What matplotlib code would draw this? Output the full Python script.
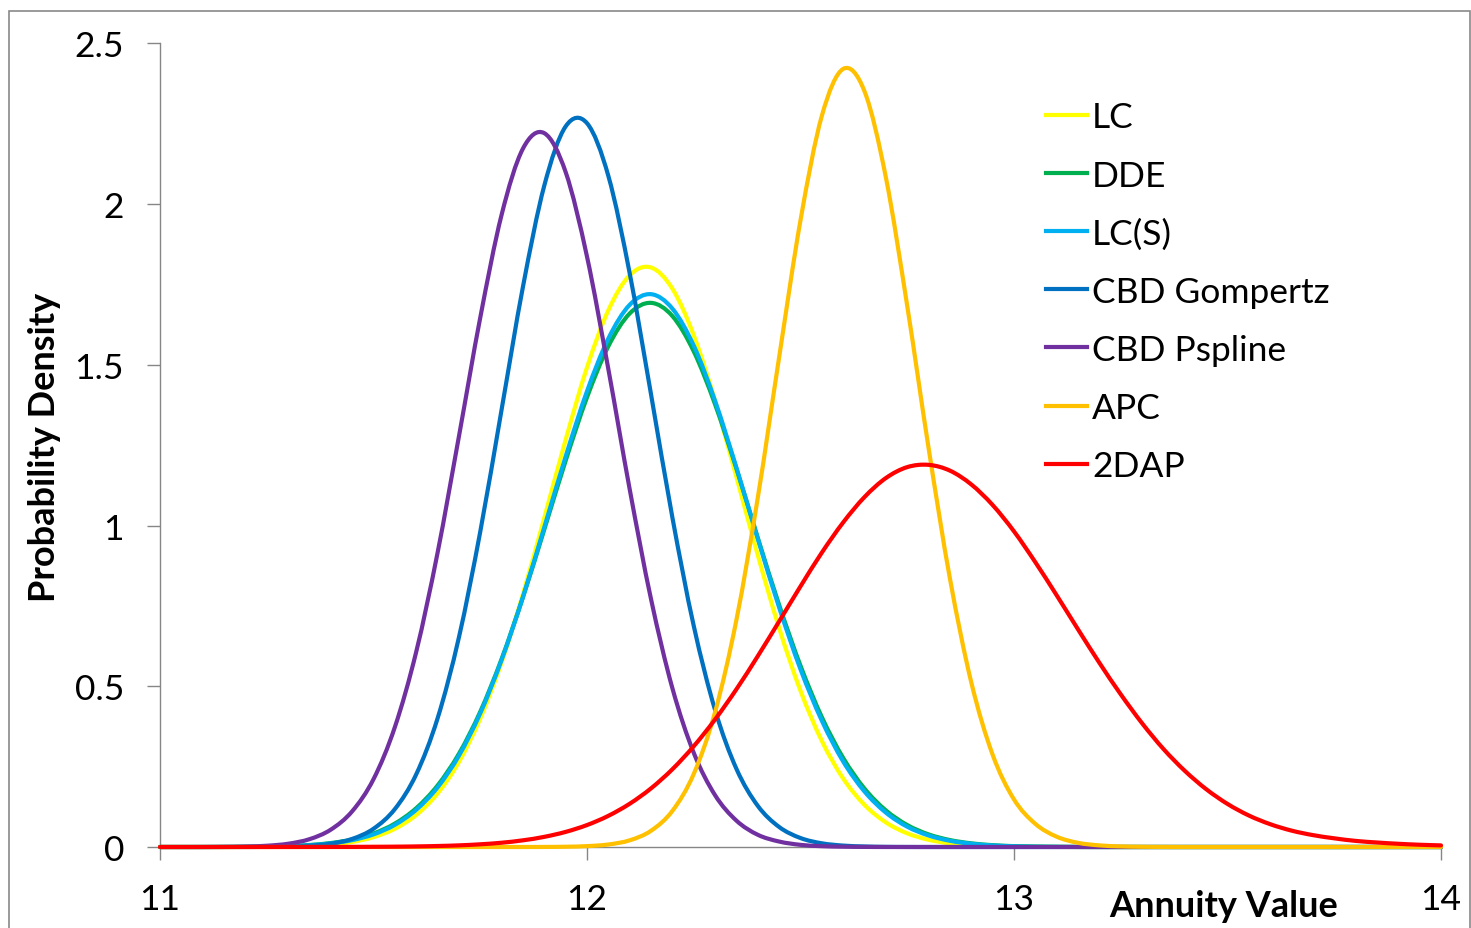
import numpy as np
import matplotlib
matplotlib.use("Agg")
import matplotlib.pyplot as plt
from matplotlib.path import Path
from matplotlib.patches import PathPatch, Rectangle
from matplotlib.lines import Line2D

plt.rcParams['font.family'] = ['Lato', 'DejaVu Sans']

# ---- data ----
annuity = np.round(np.arange(11.0, 14.0001, 0.05), 2)   # 61 grid points

lc = [0, 0, 0, 0, 0.0003, 0.0007, 0.0016, 0.0036, 0.0077, 0.0158,
      0.0307, 0.0567, 0.0996, 0.1665, 0.2646, 0.400, 0.575, 0.787, 1.024, 1.267,
      1.492, 1.670, 1.779, 1.803, 1.737, 1.592, 1.388, 1.151, 0.908, 0.681,
      0.486, 0.330, 0.213, 0.131, 0.0765, 0.0425, 0.0225, 0.0113, 0.0054, 0.0025,
      0.0011, 0.0004, 0.0002, 0, 0, 0, 0, 0, 0, 0,
      0, 0, 0, 0, 0, 0, 0, 0, 0, 0, 0]

dde = [0, 0, 0, 0.0002, 0.0006, 0.0014, 0.0030, 0.0062, 0.0123, 0.0232,
       0.0421, 0.0728, 0.1207, 0.1913, 0.290, 0.421, 0.585, 0.777, 0.988, 1.202,
       1.399, 1.558, 1.660, 1.693, 1.652, 1.542, 1.377, 1.177, 0.962, 0.753,
       0.564, 0.404, 0.277, 0.1815, 0.1139, 0.0683, 0.0392, 0.0216, 0.0114, 0.0057,
       0.0027, 0.0013, 0.0006, 0.0002, 0, 0, 0, 0, 0, 0,
       0, 0, 0, 0, 0, 0, 0, 0, 0, 0, 0]

lc_s = [0, 0, 0, 0.0002, 0.0005, 0.0012, 0.0026, 0.0055, 0.0112, 0.0214,
        0.0393, 0.0690, 0.1157, 0.1854, 0.284, 0.416, 0.582, 0.778, 0.995, 1.215,
        1.418, 1.582, 1.687, 1.720, 1.675, 1.560, 1.388, 1.180, 0.959, 0.745,
        0.553, 0.393, 0.266, 0.1725, 0.1069, 0.0632, 0.0358, 0.0194, 0.0100, 0.0049,
        0.0023, 0.0011, 0.0005, 0.0002, 0, 0, 0, 0, 0, 0,
        0, 0, 0, 0, 0, 0, 0, 0, 0, 0, 0]

cbd_gompertz = [0, 0, 0, 0, 0.0001, 0.0004, 0.0014, 0.0039, 0.0103, 0.0252,
                0.0568, 0.118, 0.226, 0.400, 0.652, 0.981, 1.361, 1.743, 2.058, 2.242,
                2.252, 2.088, 1.785, 1.408, 1.025, 0.688, 0.426, 0.243, 0.128, 0.0623,
                0.0279, 0.0115, 0.0044, 0.0016, 0.0005, 0.0001, 0, 0, 0, 0,
                0, 0, 0, 0, 0, 0, 0, 0, 0, 0,
                0, 0, 0, 0, 0, 0, 0, 0, 0, 0, 0]

cbd_pspline = [0, 0, 0.0001, 0.0005, 0.0014, 0.0039, 0.0101, 0.0243, 0.054, 0.111,
               0.211, 0.373, 0.607, 0.915, 1.277, 1.647, 1.967, 2.173, 2.221, 2.100,
               1.837, 1.487, 1.113, 0.771, 0.494, 0.293, 0.161, 0.082, 0.038, 0.017,
               0.0067, 0.0025, 0.0009, 0.0003, 0, 0, 0, 0, 0, 0,
               0, 0, 0, 0, 0, 0, 0, 0, 0, 0,
               0, 0, 0, 0, 0, 0, 0, 0, 0, 0, 0]

apc = [0, 0, 0, 0, 0, 0, 0, 0, 0, 0,
       0, 0, 0, 0, 0, 0, 0, 0, 0.0002, 0.0008,
       0.0027, 0.0078, 0.0208, 0.0506, 0.1123, 0.2274, 0.420, 0.707, 1.087, 1.524,
       1.950, 2.275, 2.421, 2.351, 2.083, 1.683, 1.241, 0.835, 0.512, 0.287,
       0.148, 0.072, 0.032, 0.013, 0.005, 0.0018, 0.0006, 0.0002, 0, 0,
       0, 0, 0, 0, 0, 0, 0, 0, 0, 0, 0]

dap2 = [0, 0, 0, 0, 0, 0, 0.0001, 0.0001, 0.0002, 0.0003,
        0.0006, 0.0010, 0.0018, 0.0031, 0.0051, 0.0084, 0.0133, 0.0208, 0.0316, 0.0470,
        0.0683, 0.0970, 0.1346, 0.1825, 0.242, 0.3136, 0.397, 0.491, 0.594, 0.702,
        0.811, 0.916, 1.010, 1.089, 1.148, 1.182, 1.189, 1.171, 1.128, 1.064,
        0.982, 0.886, 0.783, 0.677, 0.573, 0.475, 0.385, 0.305, 0.237, 0.180,
        0.134, 0.098, 0.071, 0.051, 0.037, 0.027, 0.019, 0.014, 0.010, 0.007, 0.005]

series_names = ["LC", "DDE", "LC(S)", "CBD Gompertz", "CBD Pspline", "APC", "2DAP"]
series_values = [lc, dde, lc_s, cbd_gompertz, cbd_pspline, apc, dap2]
series_colors = ["#FFFF00", "#00B050", "#00B0F0", "#0070C0", "#7030A0", "#FFC000", "#FF0000"]

x_ticks = [11, 12, 13, 14]
x_ticklabels = ["11", "12", "13", "14"]
y_ticks = [0, 0.5, 1, 1.5, 2, 2.5]
y_ticklabels = ["0", "0.5", "1", "1.5", "2", "2.5"]


def smooth_path(xs, ys):
    """Excel-like smoothed line: Catmull-Rom spline as cubic Bezier segments."""
    pts = np.column_stack([xs, ys]).astype(float)
    n = len(pts)
    verts = [pts[0]]
    codes = [Path.MOVETO]
    for i in range(n - 1):
        p0 = pts[max(i - 1, 0)]
        p1 = pts[i]
        p2 = pts[i + 1]
        p3 = pts[min(i + 2, n - 1)]
        c1 = p1 + (p2 - p0) / 6.0
        c2 = p2 - (p3 - p1) / 6.0
        verts += [c1, c2, p2]
        codes += [Path.CURVE4] * 3
    return Path(verts, codes)


W, H = 1471, 929
fig = plt.figure(figsize=(W / 100, H / 100), dpi=100)
fig.patch.set_facecolor("white")

# chart-area border
fig.add_artist(Rectangle((8.5 / W, -0.01), (1469.5 - 8.5) / W, (H - 11.5) / H + 0.01,
                         transform=fig.transFigure, fill=False,
                         edgecolor="#898989", linewidth=1.2))

ax = fig.add_axes([160 / W, (H - 848) / H, (1441 - 160) / W, (848 - 44.5) / H])
ax.set_xlim(11, 14)
ax.set_ylim(0, 2.5)

for name, vals, col in zip(series_names, series_values, series_colors):
    patch = PathPatch(smooth_path(annuity, vals), fill=False, edgecolor=col,
                      linewidth=3.0, joinstyle="round", capstyle="round",
                      clip_on=False, zorder=3)
    ax.add_patch(patch)

for s in ["top", "right"]:
    ax.spines[s].set_visible(False)
for s in ["left", "bottom"]:
    ax.spines[s].set_color("#868686")
    ax.spines[s].set_linewidth(1.0)
    ax.spines[s].set_zorder(1)

TICK_FS = 25.5
ax.set_xticks(x_ticks)
ax.set_xticklabels(x_ticklabels)
ax.set_yticks(y_ticks)
ax.set_yticklabels(y_ticklabels)
ax.tick_params(axis="both", direction="out", length=9.4, width=1.0,
               color="#868686", labelsize=TICK_FS, labelcolor="black")
ax.tick_params(axis="y", pad=16.5)
ax.tick_params(axis="x", pad=16.5)

ax.set_xlabel("Annuity Value", fontsize=26, fontweight="bold", va="center")
ax.xaxis.set_label_coords((1224 - 160) / 1281, (848 - 907) / 803.5)
ax.set_ylabel("Probability Density", fontsize=26, fontweight="bold", va="center")
ax.yaxis.set_label_coords((45 - 160) / 1281, (848 - 447) / 803.5)

handles = [Line2D([], [], color=c, linewidth=3.0) for c in series_colors]
leg = fig.legend(handles, series_names, loc="upper left",
                 bbox_to_anchor=(1046 / W, 1 - 102.5 / H), bbox_transform=fig.transFigure,
                 frameon=False, fontsize=TICK_FS, handlelength=1.16, handletextpad=0.14,
                 labelspacing=0.735, borderpad=0, borderaxespad=0)

fig.savefig("out.png", dpi=100)
